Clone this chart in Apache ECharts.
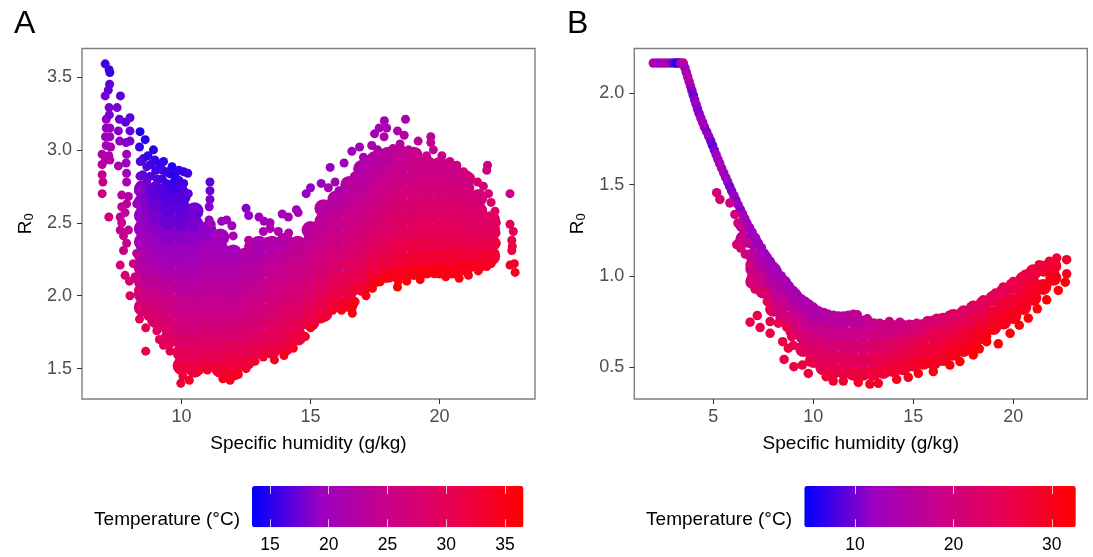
<!DOCTYPE html>
<html>
<head>
<meta charset="utf-8">
<title>R0 vs specific humidity</title>
<script src="https://cdn.jsdelivr.net/npm/echarts@6/dist/echarts.min.js"></script>
<style>
  html, body { margin: 0; padding: 0; background: #fff; }
  #chart { width: 1093px; height: 557px; }
</style>
</head>
<body>
<div id="chart"></div>
<script>
// every row: humidity (g/kg), R0, temperature (C)
const bodyA = [
  [8.5,1.92,27],[8.5,2.01,25.5],[8.5,2.1,24],[8.5,2.19,22.5],[8.5,2.28,21.5],[8.5,2.37,20.5],[8.5,2.46,19.5],[8.5,2.55,19],[8.5,2.64,18.5],[8.5,2.73,18],
  [9,1.84,28],[9,1.93,26.5],[9,2.02,25],[9,2.11,23.5],[9,2.2,22],[9,2.29,20.5],[9,2.38,19.5],[9,2.47,18.5],[9,2.56,18],[9,2.65,17.5],[9,2.72,17],
  [9.5,1.7,29.5],[9.5,1.79,28],[9.5,1.88,26.5],[9.5,1.97,25],[9.5,2.06,23.5],[9.5,2.15,22],[9.5,2.24,20.5],[9.5,2.33,19.5],[9.5,2.42,18.5],[9.5,2.51,17.5],[9.5,2.6,17],[9.5,2.69,16.5],
  [10,1.52,31.5],[10,1.61,30],[10,1.7,28.5],[10,1.79,27],[10,1.88,25.5],[10,1.97,24.5],[10,2.06,23],[10,2.15,21.5],[10,2.24,20.5],[10,2.33,19.5],[10,2.42,18.5],[10,2.51,17.5],[10,2.6,17],[10,2.68,16.5],
  [10.5,1.5,32],[10.5,1.59,30],[10.5,1.68,28.5],[10.5,1.77,27],[10.5,1.86,25.5],[10.5,1.95,24.5],[10.5,2.04,23],[10.5,2.13,22],[10.5,2.22,21],[10.5,2.31,20],[10.5,2.4,19],[10.5,2.49,18],[10.5,2.58,17.5],
  [11,1.55,31.5],[11,1.64,29.5],[11,1.73,28],[11,1.82,26.5],[11,1.91,25],[11,2,24],[11,2.09,23],[11,2.18,22],[11,2.27,21],[11,2.36,20],[11,2.45,19],
  [11.5,1.5,32.5],[11.5,1.59,30.5],[11.5,1.68,29],[11.5,1.77,27],[11.5,1.86,25.5],[11.5,1.95,24.5],[11.5,2.04,23.5],[11.5,2.13,22.5],[11.5,2.22,21.5],[11.5,2.31,20.5],[11.5,2.4,20],
  [12,1.48,33],[12,1.57,31.5],[12,1.66,29.5],[12,1.75,27.5],[12,1.84,26],[12,1.93,24.5],[12,2.02,23.5],[12,2.11,22.5],[12,2.2,21.5],[12,2.29,20.5],
  [12.5,1.55,32],[12.5,1.64,30],[12.5,1.73,28.5],[12.5,1.82,27],[12.5,1.91,25.5],[12.5,2,24.5],[12.5,2.09,23.5],[12.5,2.18,22.5],[12.5,2.27,21.5],
  [13,1.63,31],[13,1.72,29],[13,1.81,27.5],[13,1.9,26.5],[13,1.99,25.5],[13,2.08,24],[13,2.17,23],[13,2.26,22],[13,2.35,21],
  [13.5,1.63,31.5],[13.5,1.72,30],[13.5,1.81,28.5],[13.5,1.9,27],[13.5,1.99,26],[13.5,2.08,25],[13.5,2.17,24],[13.5,2.26,23],[13.5,2.35,21.5],
  [14,1.65,32],[14,1.74,30.5],[14,1.83,29],[14,1.92,28],[14,2.01,26.5],[14,2.1,25.5],[14,2.19,24.5],[14,2.28,23.5],[14,2.37,22],
  [14.5,1.72,32],[14.5,1.81,30.5],[14.5,1.9,29],[14.5,1.99,27.5],[14.5,2.08,26.5],[14.5,2.17,25.5],[14.5,2.26,24.5],[14.5,2.35,23.5],
  [15,1.82,31.5],[15,1.91,30],[15,2,28.5],[15,2.09,27],[15,2.18,26],[15,2.27,25],[15,2.36,24],[15,2.45,23],
  [15.5,1.88,32],[15.5,1.97,30.5],[15.5,2.06,29],[15.5,2.15,27.5],[15.5,2.24,26.5],[15.5,2.33,25.5],[15.5,2.42,24.5],[15.5,2.51,23.5],[15.5,2.6,22.5],
  [16,1.95,32.5],[16,2.04,31],[16,2.13,29.5],[16,2.22,28],[16,2.31,26.5],[16,2.4,25.5],[16,2.49,24.5],[16,2.58,23.5],[16,2.66,22.5],
  [16.5,1.95,33.5],[16.5,2.04,32],[16.5,2.13,30.5],[16.5,2.22,29],[16.5,2.31,27.5],[16.5,2.4,26.5],[16.5,2.49,25.5],[16.5,2.58,24.5],[16.5,2.67,23.5],[16.5,2.76,22.5],
  [17,2.06,33],[17,2.15,31],[17,2.24,29.5],[17,2.33,28],[17,2.42,27],[17,2.51,26],[17,2.6,25],[17,2.69,24],[17,2.78,23],[17,2.87,22],
  [17.5,2.12,33.5],[17.5,2.21,31.5],[17.5,2.3,30],[17.5,2.39,28.5],[17.5,2.48,27.5],[17.5,2.57,26.5],[17.5,2.66,25.5],[17.5,2.75,24.5],[17.5,2.84,23.5],[17.5,2.93,22.5],
  [18,2.15,34],[18,2.24,32],[18,2.33,30.5],[18,2.42,29],[18,2.51,28],[18,2.6,27],[18,2.69,26],[18,2.78,25],[18,2.87,24],[18,2.96,23],
  [18.5,2.17,34.5],[18.5,2.26,32.5],[18.5,2.35,31],[18.5,2.44,29.5],[18.5,2.53,28.5],[18.5,2.62,27.5],[18.5,2.71,26.5],[18.5,2.8,25.5],[18.5,2.89,24.5],[18.5,2.97,24],
  [19,2.17,35],[19,2.26,33],[19,2.35,31.5],[19,2.44,30],[19,2.53,28.5],[19,2.62,27.5],[19,2.71,26.5],[19,2.8,25.5],[19,2.89,25],[19,2.96,24.5],
  [19.5,2.18,35],[19.5,2.27,33],[19.5,2.36,31.5],[19.5,2.45,30],[19.5,2.54,29],[19.5,2.63,28],[19.5,2.72,27],[19.5,2.81,26],[19.5,2.9,25],
  [20,2.18,35],[20,2.27,33],[20,2.36,31.5],[20,2.45,30],[20,2.54,29],[20,2.63,28],[20,2.72,27],[20,2.81,26],[20,2.89,25],
  [20.5,2.18,35],[20.5,2.27,33],[20.5,2.36,31.5],[20.5,2.45,30],[20.5,2.54,29],[20.5,2.63,28],[20.5,2.72,27],[20.5,2.81,26],[20.5,2.86,25.5],
  [21,2.2,34.5],[21,2.29,32.5],[21,2.38,31],[21,2.47,29.5],[21,2.56,28.5],[21,2.65,27.5],[21,2.74,26.5],[21,2.8,26],
  [21.5,2.22,34],[21.5,2.31,32],[21.5,2.4,30.5],[21.5,2.49,29],[21.5,2.58,28],[21.5,2.67,27],
  [22,2.27,33],[22,2.36,31],[22,2.45,29.5],[22,2.52,29]
];

const rimA = [
  [7.04,3.59,16],[7.19,3.55,16],[7.22,3.53,15.5],[7.21,3.45,17],[7.16,3.41,17],[7.04,3.37,18],[7.63,3.37,17],[7.19,3.29,18],[7.5,3.29,18],[7.08,3.21,19],[7.2,3.24,18],[7.59,3.21,17.5],[8,3.22,17],[7.83,3.19,17],[8,3.13,17],
  [7.08,3.15,19.5],[7.22,3.15,19],[7.05,3.09,20],[7.22,3.09,20],[7.55,3.13,18.5],[7.6,3.06,19],[7.08,3.03,21],[7.25,3.02,21],[6.92,2.97,22],[7.18,2.96,22],[6.92,2.9,23],[7.05,2.93,22],[7.22,2.93,22],[6.92,2.83,24],[6.95,2.78,24.5],[6.92,2.7,25.5],[7.18,2.54,27],
  [7.55,2.89,21],[7.85,2.91,20],[7.87,2.97,19.5],[7.85,3.05,18.5],[8,3.06,18],[7.87,2.84,20.5],[7.87,2.78,21],[7.68,2.69,23],[7.94,2.68,22],[7.68,2.61,23.5],[7.87,2.63,23],[7.62,2.54,24],[7.81,2.57,23.5],
  [7.68,2.5,24],[7.62,2.45,24.5],[7.94,2.45,23.5],[7.75,2.41,24.5],[7.75,2.31,25],[7.87,2.36,24.5],[7.62,2.21,26.5],[7.81,2.14,27],[7.98,2.1,27.5],[8,2,28.5],[8.13,2.22,25.5],
  [8.39,2.82,18],[8.33,2.72,19],[8.26,2.63,20],[8.26,2.29,23],[8.2,2.13,26],[8.33,2.04,27],[8.46,1.93,28],[8.37,1.84,29.5],[8.61,1.78,30],[8.61,1.62,31],[8.7,1.86,28.5],
  [8.39,3.125,14.5],[8.59,3.07,15],[8.37,3.02,15.5],[8.52,2.94,16],[8.91,3,15],[8.97,2.93,15.5],[9.3,2.92,15.5],[9.26,2.86,16],[9.63,2.885,14.5],[9.55,2.835,15],[8.65,2.885,16.5],[8.4,2.92,16.5],[8.8,2.82,16.5],[9.05,2.8,16.5],[8.5,2.83,17],[9.4,2.77,16],[9.7,2.78,15.5],
  [8.7,2.96,15.5],[8.8,2.9,16],[9,2.86,16],[9.15,2.9,15.5],[9.42,2.85,15.5],[9.75,2.83,15],[9.25,2.8,16],[9.6,2.73,16],[9.85,2.73,16],[9.9,2.79,15.5],[8.95,2.75,17],[8.65,2.78,17.5],[8.42,2.76,18.5],[9.2,2.73,16.5],
  [9.9,2.86,15.5],[10.08,2.85,15.5],[10.24,2.84,16],[10.08,2.77,16],[10.07,2.725,16.5],[10.26,2.7,17],[10.46,2.59,18],
  [11.1,2.78,17],[11.1,2.72,17.5],[11.1,2.66,18],[11.07,2.61,18.5],[11.07,2.52,19.5],[11.15,2.49,19.5],[11.55,2.51,19.5],[11.75,2.52,19.5],[11.95,2.48,20],[12,2.41,21],
  [12.5,2.6,18.5],[12.6,2.55,19],[13,2.54,20],[13.43,2.5,21],[13.2,2.51,20.5],[12.6,2.38,22],[12.6,2.34,22.5],[13.3,2.37,22],[13.43,2.46,21.5],[13.17,2.44,21.5],[13.75,2.44,22],[14.15,2.43,22.5],
  [13.9,2.56,20],[14.14,2.54,20.5],[14.45,2.59,20],[14.52,2.57,20.5],[14.83,2.7,19],[15,2.74,19],[15.41,2.77,19.5],[15.76,2.88,19],[16.3,2.91,20],[15.69,2.74,20.5],[15.95,2.78,20.5],[16.1,2.72,21.5],[16.6,2.99,20],[16.9,3.02,20.5],[17.05,2.95,21.5],[16.7,2.82,22.5],
  [17.37,3.03,21],[17.48,3.11,20.5],[17.66,3.15,20.5],[17.86,3.2,20.5],[17.95,3.15,21],[17.85,3.09,21.5],[17.6,3,22],[18.68,3.21,21.5],[18.37,3.13,22],[18.63,3.1,22.5],[18.47,3.04,23],[18.2,3.01,23],[18.8,3,24],[19.17,3.06,23.5],[19.66,3.09,23.5],[19.66,3.05,24],[19.76,3,24.5],[19.03,2.96,25],[19.5,2.96,25],[20.09,2.96,25],[20.4,2.92,25.5],[20.67,2.895,25.5],[20.93,2.85,26.5],[21.2,2.81,27],[21.47,2.78,27],
  [21.86,2.895,25],[21.83,2.86,25.5],[21.7,2.75,27],[21.9,2.7,27.5],[22,2.64,28],[22.15,2.58,29],[22.2,2.5,30],[22.19,2.43,31],[22.2,2.36,32],[22.15,2.29,33],[22.73,2.7,26],[22.73,2.49,29.5],[22.86,2.44,30],[22.8,2.38,31],[22.82,2.34,31.5],[22.8,2.31,32],[22.73,2.21,33.5],[22.9,2.22,33.5],[22.93,2.16,34],
  [22,2.22,34],[21.83,2.2,34.5],[21.5,2.17,35],[21.12,2.14,35],[20.76,2.12,35.5],[20.24,2.13,35.5],[19.8,2.15,35.5],[19.25,2.11,36],[18.73,2.1,36],[18.37,2.06,36.5],[18.4,2.1,36],[17.9,2.12,35.5],[17.7,2.095,36],[17.4,2.05,35.5],[17.15,2,35.5],[16.73,1.96,35],[16.62,1.88,35.5],[16.62,1.92,35.5],[16.2,1.9,34.5],[15.86,1.9,34],
  [15.4,1.84,33.5],[15,1.78,33.5],[14.8,1.72,33.5],[14.33,1.64,34],[13.97,1.59,34.5],[13.6,1.56,34.5],[13.17,1.58,33.5],[12.85,1.55,33.5],[12.5,1.5,33.5],[12.2,1.46,34],[11.88,1.42,34.5],[11.6,1.43,34],[11.3,1.5,33],[11,1.49,33],[10.7,1.49,33],[10.3,1.42,33.5],[9.97,1.4,33],[9.94,1.49,32],[10.05,1.45,32.5],
  [9.88,1.6,30.5],[9.55,1.62,30.5],[9.3,1.66,30],[9.14,1.7,29.5],[9.04,1.76,29]
];

const bodyB = [
  [6.5,1.2,17],[6.5,1.28,14],
  [7,0.97,20],[7,1.04,18],[7,1.11,16],[7,1.19,14],
  [7.5,0.92,20.5],[7.5,0.99,18.5],[7.5,1.06,16],[7.5,1.1,14.5],
  [8,0.82,20],[8,0.89,18],[8,0.96,16],[8,1.03,14],
  [8.5,0.77,21],[8.5,0.84,19],[8.5,0.91,16.5],[8.5,0.96,14.5],
  [9,0.7,22],[9,0.77,20],[9,0.84,17],[9,0.895,15],
  [9.5,0.6,24],[9.5,0.67,22],[9.5,0.74,19],[9.5,0.81,16.5],[9.5,0.845,15],
  [10,0.54,25],[10,0.61,23],[10,0.68,20],[10,0.75,17],[10,0.805,15],
  [10.5,0.5,25.5],[10.5,0.57,23.5],[10.5,0.64,21],[10.5,0.71,18],[10.5,0.78,15.5],
  [11,0.48,26],[11,0.55,24],[11,0.62,21],[11,0.69,18],[11,0.76,16],
  [11.5,0.48,26],[11.5,0.55,24],[11.5,0.62,21.5],[11.5,0.69,18.5],[11.5,0.755,16],
  [12,0.47,26.5],[12,0.54,24],[12,0.61,21.5],[12,0.68,19],[12,0.76,16.5],
  [12.5,0.47,27],[12.5,0.54,24.5],[12.5,0.61,22],[12.5,0.68,19.5],[12.5,0.74,17],
  [13,0.47,27.5],[13,0.54,25],[13,0.61,22.5],[13,0.68,20],[13,0.725,18],
  [13.5,0.48,27.5],[13.5,0.55,25.5],[13.5,0.62,23],[13.5,0.68,20.5],[13.5,0.715,19],
  [14,0.49,28],[14,0.56,26],[14,0.63,23.5],[14,0.69,21],[14,0.715,19.5],
  [14.5,0.5,28],[14.5,0.57,26],[14.5,0.64,24],[14.5,0.7,21.5],[14.5,0.715,20],
  [15,0.52,28.5],[15,0.59,26.5],[15,0.66,24],[15,0.715,21],
  [15.5,0.53,29],[15.5,0.6,27],[15.5,0.67,25],[15.5,0.72,22],
  [16,0.53,29.5],[16,0.6,27.5],[16,0.67,25.5],[16,0.74,22.5],
  [16.5,0.55,29.5],[16.5,0.62,27.5],[16.5,0.69,25.5],[16.5,0.755,23],
  [17,0.58,30],[17,0.65,28],[17,0.72,25.5],[17,0.775,23],
  [17.5,0.6,30],[17.5,0.67,28],[17.5,0.74,26],[17.5,0.79,23.5],
  [18,0.62,30.5],[18,0.69,28.5],[18,0.76,26],[18,0.82,24],
  [18.5,0.67,30],[18.5,0.74,28],[18.5,0.8,26],[18.5,0.845,24.5],
  [19,0.72,30],[19,0.79,28],[19,0.875,25.5],
  [19.5,0.75,30],[19.5,0.83,28],[19.5,0.91,25.5],
  [20,0.78,30],[20,0.86,28],[20,0.945,26],
  [20.5,0.83,30],[20.5,0.91,28],[20.5,0.98,26.5],
  [21,0.88,30],[21,0.95,28.5],[21,1.02,27],
  [21.5,0.94,30],[21.5,1.04,28],
  [22,0.99,30.5],[22,1.055,28.5]
];

const rimB = [
  [2,2.166,15],[2.2,2.166,13],[2.4,2.166,12.5],[2.6,2.166,15],[2.8,2.166,13],[3,2.166,9],[3.15,2.166,7],[3.25,2.166,6],[3.35,2.166,12],[3.5,2.166,17],
  [3.58,2.14,12],[3.65,2.115,13],[3.72,2.09,15],[3.79,2.065,15],[3.86,2.04,14],[3.93,2.015,11],[4,1.99,10],[4.07,1.965,11],[4.14,1.94,12],[4.21,1.915,11],[4.29,1.89,11],[4.38,1.865,12],[4.47,1.84,13],[4.56,1.815,12],[4.67,1.79,11],[4.77,1.765,13],[4.87,1.74,10],[4.96,1.715,9],[5.05,1.69,10],[5.14,1.665,12],[5.23,1.64,13],[5.32,1.615,13],[5.42,1.59,14],[5.52,1.565,13],[5.62,1.54,12],[5.72,1.515,12],[5.82,1.49,10],[5.92,1.465,11],[6.03,1.44,12],[6.13,1.415,11],[6.24,1.39,12],[6.35,1.365,11],[6.46,1.34,12],[6.57,1.315,13],[6.68,1.29,12],[6.81,1.265,13],[6.94,1.24,12],
  [7.1,1.21,13],[7.25,1.18,12],[7.4,1.155,13],[7.55,1.125,12],[7.7,1.1,13],[7.85,1.08,12],[8,1.055,13],[8.2,1.025,13],[8.4,1,13],[8.6,0.97,14],[8.8,0.945,13],[9,0.92,14],[9.2,0.895,14],[9.4,0.875,14],[9.6,0.86,15],[9.8,0.845,15],[10,0.83,15],[10.25,0.81,15],[10.5,0.8,15.5],[10.75,0.79,15.5],[11,0.785,16],[11.25,0.78,16],[11.5,0.78,16.5],[11.75,0.785,16.5],[12,0.79,17],[12.2,0.787,17],
  [12.7,0.765,18],[13.33,0.741,19],[13.8,0.75,19],[14.33,0.747,19.5],[14.8,0.735,20],[15.17,0.741,20.5],[15.7,0.755,21],[16.17,0.769,21.5],[16.8,0.785,22],[17.5,0.814,23],[18,0.84,23.5],[18.5,0.869,24],[19.1,0.906,24.5],[19.5,0.94,25],[20,0.97,25.5],[20.6,1.01,26.5],[21.3,1.062,27],[21.8,1.08,27.5],[22.17,1.098,28],[22.67,1.089,28.5],
  [22.67,1.012,30],[22.6,0.966,31],[22.25,0.921,31.5],[21.67,0.869,32],[21.2,0.82,32],[20.75,0.769,32],[20.3,0.73,32],[19.84,0.686,32],[19.25,0.628,32],[18.67,0.64,32],[18.3,0.6,32],[18,0.567,32],[17.33,0.531,32],[16.83,0.512,31.5],[16,0.476,31],[15.25,0.466,30.5],[14.75,0.445,30],[14.17,0.434,30],[13.25,0.412,29.5],[12.83,0.408,29.5],[12.25,0.417,28.5],[11.5,0.424,28],[11,0.424,28],[10.64,0.448,27.5],
  [9.75,0.466,27.5],[9.03,0.503,27],[9.45,0.512,27],[9.8,0.53,27],[8.54,0.543,27],[8.75,0.604,26.5],[9,0.62,26],[8.47,0.64,26.5],[7.84,0.686,26.5],[7.34,0.717,26],[6.84,0.747,26],[7.2,0.783,25.5],[7.84,0.75,26],[8.25,0.741,25.5],[8.67,0.72,25],[8.92,0.668,25],
  [7.6,0.915,23],[7.84,0.814,24],[7.7,0.86,24],[7.09,0.928,23],[6.92,0.998,21],[6.84,1.062,20.5],[6.37,1.153,21],[6.17,1.172,21],[6.42,1.217,19],[6.6,1.12,20.5],[6.7,1.18,18],
  [5.17,1.456,21],[5.33,1.419,21],[5.83,1.4,19],[6.08,1.337,20],[6.23,1.29,20],[6.4,1.27,18]
];

const xTicksA = [10, 15, 20];
const yTicksA = [1.5, 2, 2.5, 3, 3.5];
const xTicksB = [5, 10, 15, 20];
const yTicksB = [0.5, 1, 1.5, 2];
const tempTicksA = [15, 20, 25, 30, 35];
const tempTicksB = [10, 20, 30];
// blue to red through Lab, like the colour bars
const tempColors = ['#0000FF', '#9A00C2', '#CA0089', '#E8004F', '#FF0000'];

const FONT = '"Liberation Sans", Arial, sans-serif';
const chart = echarts.init(document.getElementById('chart'), null, { renderer: 'canvas' });

// plot axes, ticks only where the reference has them
function plotX(gridIndex, min, max, ticks) {
  return {
    type: 'value', gridIndex, min, max,
    name: 'Specific humidity (g/kg)',
    nameLocation: 'middle', nameGap: 35,
    nameTextStyle: { color: '#000', fontSize: 19, fontFamily: FONT },
    splitLine: { show: false },
    axisLine: { show: false },
    axisTick: { show: true, length: 5, customValues: ticks, lineStyle: { color: '#333', width: 1 } },
    axisLabel: { color: '#4D4D4D', fontSize: 18, fontFamily: FONT, margin: 9, customValues: ticks }
  };
}

function plotY(gridIndex, min, max, ticks, gap) {
  return {
    type: 'value', gridIndex, min, max,
    name: 'R{sub|0}',
    nameLocation: 'middle', nameRotate: 90, nameGap: gap,
    nameTextStyle: {
      color: '#000', fontSize: 19, fontFamily: FONT,
      rich: { sub: { fontSize: 13, fontFamily: FONT, color: '#000', verticalAlign: 'bottom', padding: [8, 0, 0, 0] } }
    },
    splitLine: { show: false },
    axisLine: { show: false },
    axisTick: { show: true, length: 5, customValues: ticks, lineStyle: { color: '#333', width: 1 } },
    axisLabel: { color: '#4D4D4D', fontSize: 18, fontFamily: FONT, margin: 10, customValues: ticks, formatter: v => v.toFixed(1) }
  };
}

// colour bar axes: white ticks on the top and bottom edge of the bar
function barX(gridIndex, min, max, ticks, labelled) {
  return {
    type: 'value', gridIndex, min, max, position: 'bottom', z: 10,
    splitLine: { show: false },
    axisLine: { show: false },
    axisTick: { show: true, inside: true, length: 8, customValues: ticks, lineStyle: { color: '#fff', width: 1, opacity: 0.75 } },
    axisLabel: { color: labelled ? '#000' : 'transparent', fontSize: 17.5, fontFamily: FONT, margin: 9, customValues: ticks }
  };
}

function hiddenY(gridIndex) {
  return { type: 'value', gridIndex, min: 0, max: 1, show: false };
}

function dots(name, axis, size, data) {
  return {
    name, type: 'scatter', xAxisIndex: axis, yAxisIndex: axis,
    symbolSize: size, data, silent: true, animation: false, progressive: 0,
    itemStyle: { opacity: 1 }
  };
}

function tempBar(seriesIndex, min, max, left) {
  return {
    type: 'continuous', seriesIndex, dimension: 2, min, max,
    orient: 'horizontal', left, top: 486, padding: 0,
    itemWidth: 41.3, itemHeight: 271.5,
    calculable: false, hoverLink: false, text: null,
    inRange: { color: tempColors }
  };
}

function panelLetter(text, x) {
  return { type: 'text', left: x, top: 8, style: { text, fontSize: 32, fontFamily: FONT, fill: '#000' } };
}

function barTitle(x) {
  return { type: 'text', right: x, top: 510, style: { text: 'Temperature (°C)', fontSize: 19, fontFamily: FONT, fill: '#000' } };
}

chart.setOption({
  backgroundColor: '#fff',
  animation: false,
  grid: [
    { left: 82, top: 48.5, width: 453, height: 350.5, show: true, borderColor: '#7F7F7F', borderWidth: 1.4, backgroundColor: '#fff' },
    { left: 634.3, top: 48.5, width: 453, height: 350.5, show: true, borderColor: '#7F7F7F', borderWidth: 1.4, backgroundColor: '#fff' },
    { left: 252, top: 486, width: 271.5, height: 41.3 },
    { left: 804.3, top: 486, width: 271.5, height: 41.3 },
    { left: 252, top: 486, width: 271.5, height: 8 },
    { left: 804.3, top: 486, width: 271.5, height: 8 }
  ],
  xAxis: [
    plotX(0, 6.14, 23.7, xTicksA),
    plotX(1, 1.05, 23.7, xTicksB),
    barX(2, 13.47, 36.57, tempTicksA, true),
    barX(3, 4.84, 32.44, tempTicksB, true),
    barX(4, 13.47, 36.57, tempTicksA, false),
    barX(5, 4.84, 32.44, tempTicksB, false)
  ],
  yAxis: [
    plotY(0, 1.292, 3.695, yTicksA, 46),
    plotY(1, 0.326, 2.246, yTicksB, 46),
    hiddenY(2), hiddenY(3), hiddenY(4), hiddenY(5)
  ],
  visualMap: [
    tempBar([0, 1], 13.47, 36.57, 252),
    tempBar([2, 3], 4.84, 32.44, 804.3)
  ],
  graphic: [
    panelLetter('A', 14), panelLetter('B', 567),
    barTitle(1093 - 240), barTitle(1093 - 792)
  ],
  series: [
    dots('A body', 0, 18, bodyA),
    dots('A rim', 0, 9, rimA),
    dots('B body', 1, 16, bodyB),
    dots('B rim', 1, 9.5, rimB)
  ]
});
</script>
</body>
</html>
